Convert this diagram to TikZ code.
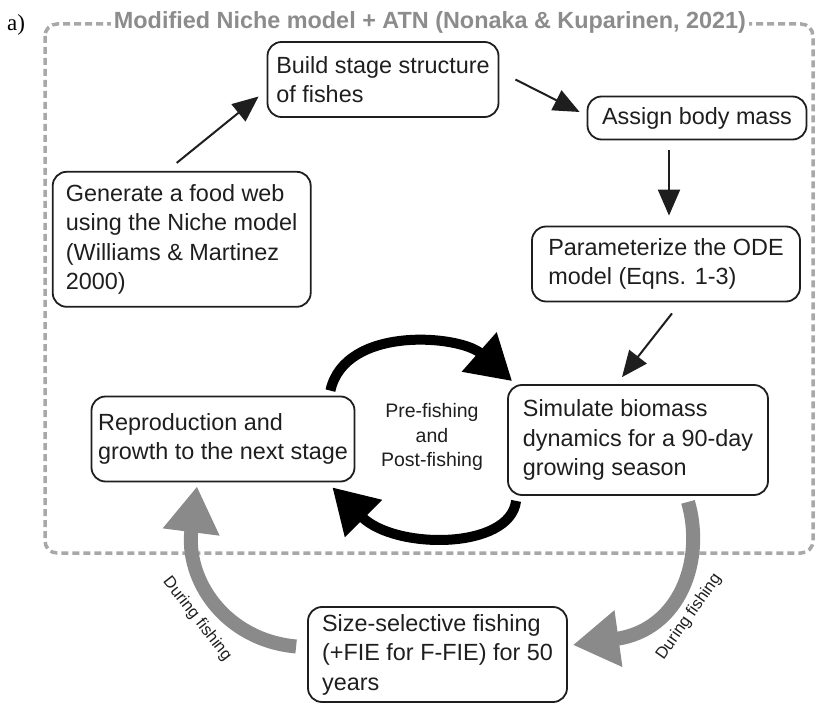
\documentclass[tikz,border=0pt]{standalone}
\usepackage{fontspec}
\setmainfont{Liberation Sans}
\newfontfamily\panelfont{Liberation Serif}
\usepackage{tikz}
\usetikzlibrary{positioning, arrows.meta, calc}
\definecolor{framegray}{RGB}{168,168,168}
\definecolor{titlegray}{RGB}{140,140,140}
\definecolor{fishgray}{RGB}{138,138,138}
\definecolor{ink}{RGB}{30,30,30}

\begin{document}
\begin{tikzpicture}[
    x=1pt, y=-1pt,
    box/.style={draw=ink, text=ink, rectangle, rounded corners=14pt, line width=1.8pt, align=left, inner xsep=6pt,
        font=\fontsize{23.4}{29.5}\selectfont},
    thinarr/.style={-{Triangle[length=26pt,width=22pt]}, line width=2pt, draw=ink},
    loopar/.style={-{Triangle[length=44pt,width=50pt]}, line width=10pt, draw=black},
    fisharr/.style={-{Triangle[length=46pt,width=54pt]}, line width=14pt, draw=fishgray},
    fishlbl/.style={text=ink, font=\fontsize{16.5}{20}\selectfont}
]
    \useasboundingbox (0,0) rectangle (815,706);

    % dashed frame of the model part
    \draw[framegray, line width=3.5pt, dash pattern=on 7pt off 4pt, rounded corners=12pt] (45,24) rectangle (813,553);
    \node[fill=white, text=titlegray, inner xsep=3pt, inner ysep=1pt, font=\bfseries\fontsize{23.4}{28}\selectfont] (title) at (430,22) {Modified Niche model + ATN (Nonaka \& Kuparinen, 2021)};
    \node[font=\panelfont\fontsize{23}{28}\selectfont] (panel) at (16,25) {a)};

    \node[box, minimum width=231pt, minimum height=75pt] (build) at (383,79.5) {Build stage structure\\of fishes};
    \node[box, minimum width=219pt, minimum height=43pt] (assign) at (697,118) {Assign body mass};
    \node[box, minimum width=258pt, minimum height=135pt] (gen) at (181.7,239.3) {Generate a food web\\using the Niche model\\(Williams \& Martinez\\2000)};
    \node[box, minimum width=268pt, minimum height=75pt] (param) at (666,264) {Parameterize the ODE\\model (Eqns. 1-3)};
    \node[box, minimum width=260pt, minimum height=110pt] (sim) at (638,440) {Simulate biomass\\dynamics for a 90-day\\growing season};
    \node[box, minimum width=263pt, minimum height=85pt] (repro) at (223,439) {Reproduction and\\growth to the next stage};
    \node[box, minimum width=259pt, minimum height=95pt] (fishing) at (437.5,654.5) {Size-selective fishing\\(+FIE for F-FIE) for 50\\years};
    \node[align=center, text=ink, font=\fontsize{19.5}{24.3}\selectfont] (mode) at (432,437) {Pre-fishing\\and\\Post-fishing};

    \draw[thinarr] ([shift={(-5,-8)}]gen.north) -- ([shift={(-8,17)}]build.west);
    \draw[thinarr] ([shift={(16,0)}]build.east) -- ([shift={(-7,-6)}]assign.west);
    \draw[thinarr] ([shift={(-28,10)}]assign.south) -- ([shift={(3,-10)}]param.north);
    \draw[thinarr] ([shift={(6,11)}]param.south) -- ([shift={(-16,-7)}]sim.north);

    \draw[loopar] ([shift={(-25,-5)}]repro.north east) .. controls (345,325) and (460,335) .. ([shift={(5,-3)}]sim.north west);
    \draw[loopar] ([shift={(9,5)}]sim.south west) .. controls (510,550) and (395,550) .. ([shift={(-23,5)}]repro.south east);

    \draw[fisharr] ([shift={(50,6)}]sim.south) .. controls (705,560) and (680,630) .. ([shift={(5,-9.5)}]fishing.east);
    \draw[fisharr] ([shift={(-11,-8)}]fishing.west) .. controls (225,640) and (185,580) .. ([shift={(-26,4)}]repro.south);
    \node[fishlbl, rotate=55] (during1) at (689,617) {During fishing};
    \node[fishlbl, rotate=-52] (during2) at (197,619) {During fishing};
\end{tikzpicture}
\end{document}
